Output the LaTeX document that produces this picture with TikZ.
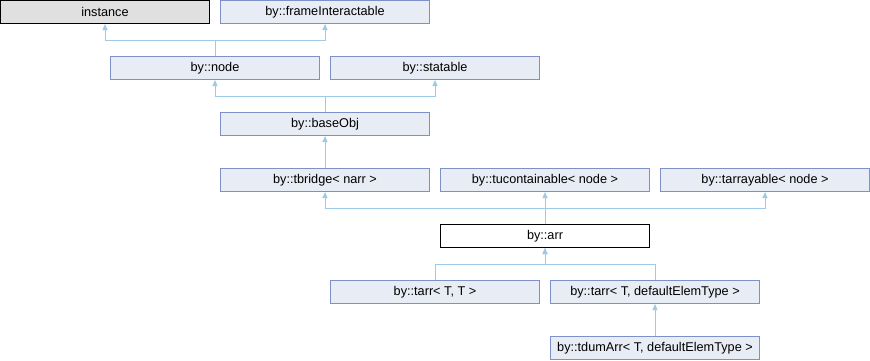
\documentclass[tikz,border=0pt]{standalone}
\usepackage{fontspec}
\setmainfont{Liberation Sans}
\usepackage{xcolor}
\usepackage{tikz}
\usetikzlibrary{arrows.meta, positioning}
\definecolor{dboxfill}{HTML}{E8ECF4}
\definecolor{dboxline}{HTML}{7D91C8}
\definecolor{dedge}{HTML}{9CCAE8}
\definecolor{dgray}{HTML}{E0E0E0}

\begin{document}
\begin{tikzpicture}[x=1pt, y=-1pt,
  cls/.style={draw=dboxline, fill=dboxfill, line width=1pt, minimum width=209pt,
    minimum height=23pt, inner sep=0pt, font=\fontsize{12.7}{14}\selectfont},
  ext/.style={cls, draw=black, fill=dgray},
  cur/.style={cls, draw=black, fill=white},
  edge/.style={draw=dedge, line width=1pt, -{Triangle[length=6pt, width=5pt]}}]
\useasboundingbox (0,0) rectangle (870,360);
% row 0
\node[ext] (instance) at (105,12) {instance};
\node[cls] (frameint) at (325,12) {by::frameInteractable};
% row 1
\node[cls] (node) at (215,68) {by::node};
\node[cls] (statable) at (435,68) {by::statable};
% row 2
\node[cls] (baseobj) at (325,124) {by::baseObj};
% row 3
\node[cls] (tbridge) at (325,180) {by::tbridge< narr >};
\node[cls] (tucont) at (545,180) {by::tucontainable< node >};
\node[cls] (tarray) at (765,180) {by::tarrayable< node >};
% row 4
\node[cur] (arr) at (545,236) {by::arr};
% row 5
\node[cls] (tarrtt) at (435,292) {by::tarr< T, T >};
\node[cls] (tarrdef) at (655,292) {by::tarr< T, defaultElemType >};
% row 6
\node[cls] (tdumarr) at (655,348) {by::tdumArr< T, defaultElemType >};

% inheritance
\draw[edge] (node.north) -- ++(0,-16) -| (instance.south);
\draw[edge] (node.north) -- ++(0,-16) -| (frameint.south);
\draw[edge] (baseobj.north) -- ++(0,-16) -| (node.south);
\draw[edge] (baseobj.north) -- ++(0,-16) -| (statable.south);
\draw[edge] (tbridge.north) -- (baseobj.south);
\draw[edge] (arr.north) -- ++(0,-16) -| (tbridge.south);
\draw[edge] (arr.north) -- (tucont.south);
\draw[edge] (arr.north) -- ++(0,-16) -| (tarray.south);
\draw[edge] (tarrtt.north) -- ++(0,-16) -| (arr.south);
\draw[edge] (tarrdef.north) -- ++(0,-16) -| (arr.south);
\draw[edge] (tdumarr.north) -- (tarrdef.south);
\end{tikzpicture}
\end{document}
